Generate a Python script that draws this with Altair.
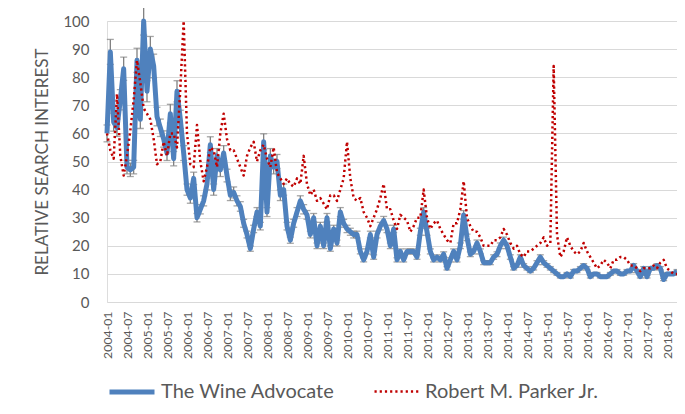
import json
import altair as alt
import pandas as pd

series_names = ["The Wine Advocate", "Robert M. Parker Jr."]

wine_advocate = [
    60, 89, 64, 62, 72, 83, 48, 47, 48, 86, 65, 100,
    75, 90, 84, 66, 62, 58, 53, 67, 51, 75, 65, 53,
    40, 37, 44, 30, 33, 36, 42, 56, 40, 52, 47, 53,
    45, 38, 39, 36, 34, 28, 24, 19, 26, 32, 27, 57,
    32, 52, 48, 50, 38, 40, 27, 22, 28, 32, 36, 33,
    31, 24, 30, 20, 27, 20, 30, 19, 26, 21, 32, 28,
    26, 25, 24, 24, 18, 15, 18, 24, 16, 24, 27, 29,
    26, 20, 26, 15, 18, 15, 18, 18, 18, 16, 25, 32,
    25, 18, 15, 16, 15, 17, 12, 15, 18, 15, 20, 31,
    23, 17, 18, 21, 18, 14, 14, 14, 16, 17, 20, 22,
    20, 16, 12, 13, 16, 13, 12, 11, 12, 14, 16, 14,
    13, 12, 11, 10, 9, 9, 10, 9, 11, 11, 12, 13,
    12, 9, 10, 10, 9, 9, 9, 10, 11, 11, 10, 10,
    11, 11, 13, 11, 9, 12, 9, 12, 12, 13, 12, 8,
    10, 10, 10, 11,
]

parker = [
    60, 54, 51, 74, 52, 45, 52, 61, 72, 86, 78, 69,
    67, 65, 58, 49, 50, 57, 52, 60, 60, 55, 76, 100,
    60, 49, 48, 63, 50, 43, 48, 55, 54, 48, 60, 67,
    58, 54, 54, 51, 48, 45, 52, 55, 57, 50, 54, 56,
    51, 48, 55, 46, 44, 42, 44, 42, 41, 44, 42, 52,
    42, 38, 40, 36, 37, 35, 33, 38, 38, 36, 40, 44,
    57, 44, 37, 36, 37, 32, 30, 27, 30, 33, 37, 42,
    33, 33, 29, 26, 31, 30, 29, 25, 27, 30, 30, 40,
    30, 26, 28, 29, 26, 24, 22, 21, 28, 28, 33, 43,
    30, 27, 25, 25, 23, 20, 20, 20, 22, 22, 23, 26,
    24, 21, 19, 20, 17, 16, 18, 18, 19, 20, 21, 23,
    20, 21, 84, 24, 16, 18, 23, 20, 18, 17, 18, 21,
    18, 16, 14, 12, 13, 15, 14, 12, 15, 15, 16, 16,
    15, 13, 13, 12, 11, 12, 12, 12, 13, 12, 14, 15,
    12, 11, 10, 10,
]

tick_labels = [
    "2004-01", "2004-07", "2005-01", "2005-07", "2006-01", "2006-07",
    "2007-01", "2007-07", "2008-01", "2008-07", "2009-01", "2009-07",
    "2010-01", "2010-07", "2011-01", "2011-07", "2012-01", "2012-07",
    "2013-01", "2013-07", "2014-01", "2014-07", "2015-01", "2015-07",
    "2016-01", "2016-07", "2017-01", "2017-07", "2018-01",
]
error_pct = 0.05

n = len(wine_advocate)
rows = []
for i in range(n):
    rows.append({"idx": i, "series": series_names[0], "value": wine_advocate[i]})
for i in range(len(parker)):
    rows.append({"idx": i, "series": series_names[1], "value": parker[i]})
df = pd.DataFrame(rows)
err = pd.DataFrame({
    "idx": list(range(n)),
    "lo": [v * (1 - error_pct) for v in wine_advocate],
    "hi": [v * (1 + error_pct) for v in wine_advocate],
})

GREY = "#595959"
FONT = "Lato"
label_expr = json.dumps(tick_labels) + "[round(datum.value / 6)]"

x_scale = alt.Scale(domain=[0, n - 1], nice=False, zero=False)
x_axis = alt.Axis(
    values=list(range(0, 6 * len(tick_labels), 6)), labelExpr=label_expr,
    labelAngle=-90, labelFontSize=12.3, labelColor=GREY, labelFont=FONT,
    labelPadding=9, ticks=False, domain=False, grid=False, title=None,
    labelAlign="right", labelBaseline="middle", labelOverlap=False,
    labelBound=False, labelFlush=False,
)
y_scale = alt.Scale(domain=[0, 100], nice=False)
y_axis = alt.Axis(
    values=list(range(0, 101, 10)), labelFontSize=15, labelColor=GREY,
    labelFont=FONT, labelPadding=18, ticks=False, domain=False,
    labelOverlap=False, labelFlush=False,
    gridColor="#D9D9D9", gridWidth=1, title="RELATIVE SEARCH INTEREST",
    titleFont=FONT, titleFontSize=17, titleFontWeight="normal",
    titleColor=GREY, titlePadding=11,
)

X = alt.X("idx:Q", scale=x_scale, axis=x_axis)

bars = alt.Chart(err).mark_rule(color="#808080", strokeWidth=1.3).encode(
    x=X,
    y=alt.Y("lo:Q", scale=y_scale, axis=y_axis),
    y2="hi:Q",
)
caps_lo = alt.Chart(err).mark_tick(
    color="#808080", orient="horizontal", size=7, thickness=1.3
).encode(x=X, y=alt.Y("lo:Q", scale=y_scale, axis=y_axis))
caps_hi = alt.Chart(err).mark_tick(
    color="#808080", orient="horizontal", size=7, thickness=1.3
).encode(x=X, y=alt.Y("hi:Q", scale=y_scale, axis=y_axis))

lines = alt.Chart(df).mark_line(strokeJoin="round").encode(
    x=X,
    y=alt.Y("value:Q", scale=y_scale, axis=y_axis),
    color=alt.Color(
        "series:N",
        scale=alt.Scale(domain=series_names, range=["#4F81BD", "#C00000"]),
        legend=alt.Legend(
            title=None, orient="none", legendX=0, legendY=346,
            direction="horizontal", symbolType="stroke", symbolSize=2025,
            labelFontSize=20, labelColor=GREY, labelFont=FONT,
            labelOffset=4, columnPadding=34, padding=0, labelLimit=400,
        ),
    ),
    strokeDash=alt.StrokeDash(
        "series:N",
        scale=alt.Scale(domain=series_names, range=[[1, 0], [2.2, 3]]),
    ),
    strokeWidth=alt.StrokeWidth(
        "series:N",
        scale=alt.Scale(domain=series_names, range=[5, 2.5]),
    ),
    order="idx:Q",
)

chart = alt.layer(bars, caps_lo, caps_hi, lines).properties(
    width=570, height=281,
    autosize=alt.AutoSizeParams(type="none"),
    padding={"left": 99, "top": 13, "right": 0, "bottom": 104},
).configure_view(stroke=None).configure(font=FONT)

chart.save("out.html", embed_options={"renderer": "svg", "actions": False})
